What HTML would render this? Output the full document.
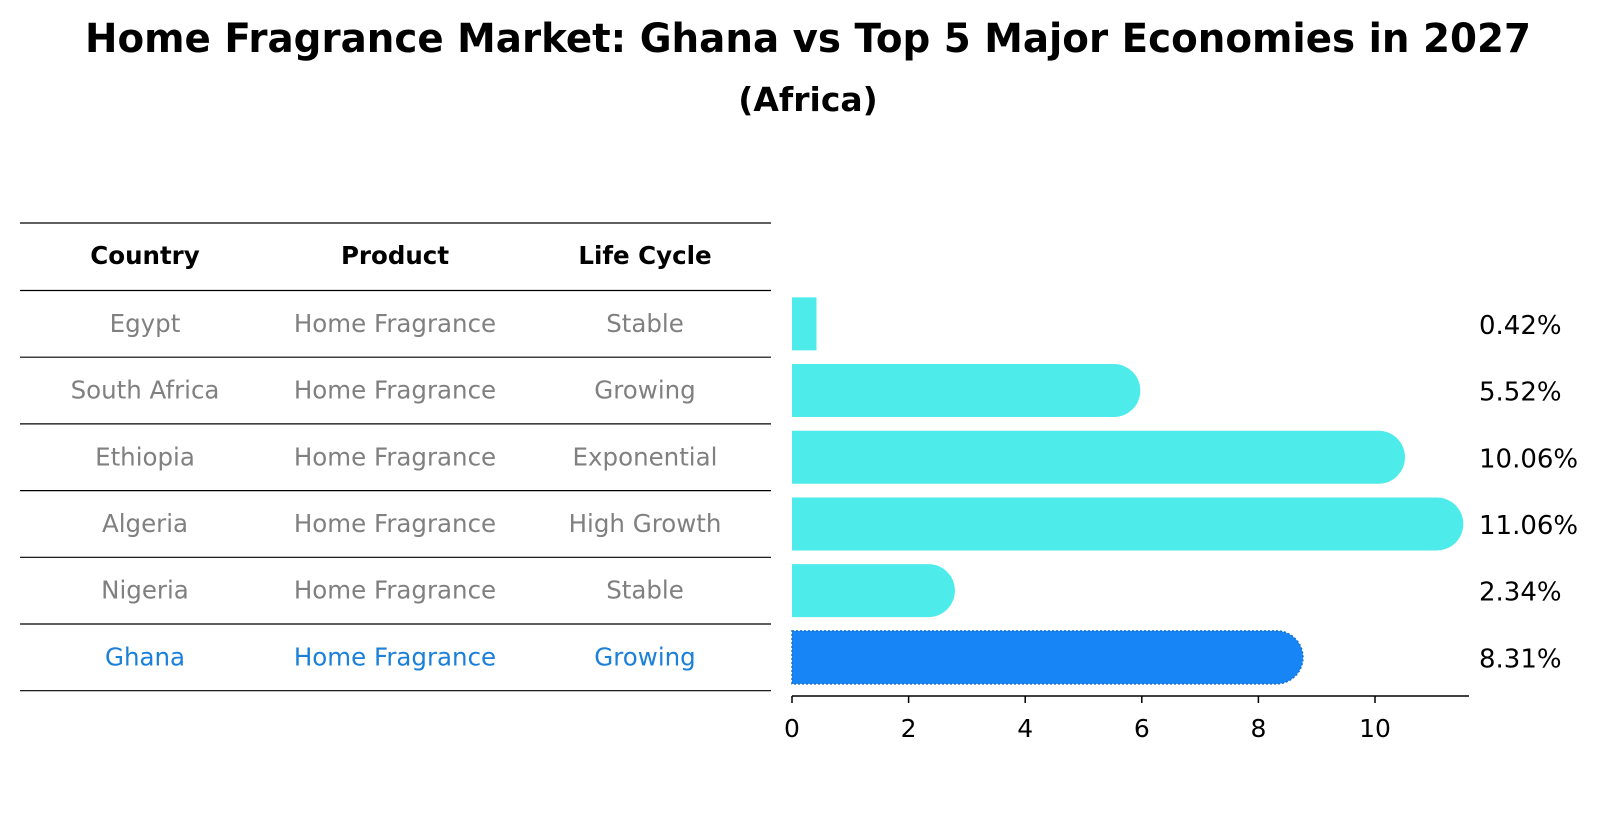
<!DOCTYPE html>
<html><head><meta charset="utf-8"><style>
body{margin:0;background:#fff}
svg{display:block;font-family:"DejaVu Sans","Liberation Sans",sans-serif}
</style></head><body>
<svg id="chart" width="1604" height="823" viewBox="0 0 1604 823" xmlns="http://www.w3.org/2000/svg">
<text x="808" y="52" text-anchor="middle" font-size="40" font-weight="bold" textLength="1446" lengthAdjust="spacingAndGlyphs">Home Fragrance Market: Ghana vs Top 5 Major Economies in 2027</text>
<text x="808" y="111" text-anchor="middle" font-size="33" font-weight="bold">(Africa)</text>
<g id="table"></g>
<g id="bars"></g>
</svg>
<script>
const countries=["Egypt","South Africa","Ethiopia","Algeria","Nigeria","Ghana"];
const products=["Home Fragrance","Home Fragrance","Home Fragrance","Home Fragrance","Home Fragrance","Home Fragrance"];
const lifeCycles=["Stable","Growing","Exponential","High Growth","Stable","Growing"];
const values=[0.42,5.52,10.06,11.06,2.34,8.31];
const tickValues=[0,2,4,6,8,10];
const highlight="Ghana";

const NS="http://www.w3.org/2000/svg";
const tbl=document.getElementById('table');
const bars=document.getElementById('bars');
function mk(tag,attrs,parent){const e=document.createElementNS(NS,tag);for(const k in attrs)e.setAttribute(k,attrs[k]);parent.appendChild(e);return e;}

const x0=792, pxPer=58.3, axisY=696, axisEnd=1469;
const rowTop=290.5, rowH=66.7, barH=53;
const xs=v=>x0+v*pxPer;
const rowC=i=>rowTop+rowH*(i+0.5);

const colX=[145,395,645];
const headers=["Country","Product","Life Cycle"];
headers.forEach((h,j)=>{
 const t=mk('text',{x:colX[j],y:264,'text-anchor':'middle','font-size':24.5,'font-weight':'bold',fill:'#000'},tbl);
 
 
 t.textContent=h;
});
for(let i=0;i<=countries.length+1;i++){
 const y= i===0?223:rowTop+rowH*(i-1);
 const l=mk('line',{x1:20,x2:771,y1:y,y2:y,stroke:'#000','stroke-width':1.2},tbl);
 
 
}
countries.forEach((c,i)=>{
 const col=c===highlight?'#1a80d9':'#808080';
 [c,products[i],lifeCycles[i]].forEach((s,j)=>{
  const t=mk('text',{x:colX[j],y:rowC(i)+8,'text-anchor':'middle','font-size':24.5,fill:col},tbl);
  
  
  t.textContent=s;
 });
});

values.forEach((v,i)=>{
 const c=rowC(i), top=c-barH/2, r=barH/2, xe=xs(v);
 const isH=countries[i]===highlight;
 let d;
 if(xe-x0>r*1.5){
  d=`M${x0},${top} H${xe} A${r},${r} 0 0 1 ${xe},${top+barH} H${x0} Z`;
 } else {
  d=`M${x0},${top} H${xe} V${top+barH} H${x0} Z`;
 }
 const p=mk('path',{d:d,fill:isH?'#1785f5':'#4debe9'},bars);
 if(isH){p.setAttribute('stroke','#1670d0');p.setAttribute('stroke-width','1.5');p.setAttribute('stroke-dasharray','2 2');}
 
 
 const t=mk('text',{x:1479,y:c+10,'font-size':26,fill:'#000'},bars);
 
 
 t.textContent=v.toFixed(2)+'%';
});
const ax=mk('line',{x1:x0,x2:axisEnd,y1:axisY,y2:axisY,stroke:'#000','stroke-width':1.5},bars);


tickValues.forEach(tv=>{
 const x=xs(tv);
 const tk=mk('line',{x1:x,x2:x,y1:axisY,y2:axisY+7,stroke:'#000','stroke-width':1.5},bars);
 
 
 const t=mk('text',{x:x,y:axisY+41,'text-anchor':'middle','font-size':25,fill:'#000'},bars);
 
 
 t.textContent=tv;
});
</script>
</body></html>
